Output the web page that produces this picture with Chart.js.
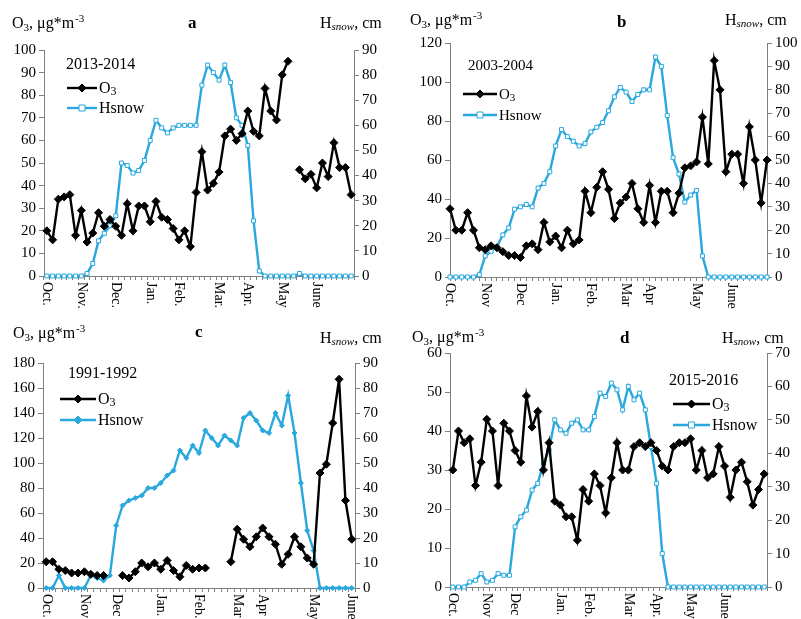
<!DOCTYPE html>
<html>
<head>
<meta charset="utf-8">
<script src="https://cdn.jsdelivr.net/npm/chart.js@4/dist/chart.umd.min.js"></script>
<style>
  body { margin: 0; background: #fff; }
  #wrap { position: relative; width: 801px; height: 619px; }
  canvas { position: absolute; }
</style>
</head>
<body>
<div id="wrap">
  <canvas id="pa" width="400" height="310" style="left:0;top:0"></canvas>
  <canvas id="pb" width="401" height="310" style="left:400px;top:0"></canvas>
  <canvas id="pc" width="400" height="309" style="left:0;top:310px"></canvas>
  <canvas id="pd" width="401" height="309" style="left:400px;top:310px"></canvas>
</div>
<script>
// pentad values, Oct .. June
const o3A = [20,16,34,35,36,18,29,15,19,28, 22,25,22,18,32,20,31,31,24,33, 26,25,21,16,20,13,37,55,38,41,
  46,62,65,60,63,73,64,62,83,73, 69,89,95,null,47,43,45,39,50,44, 59,48,48,36]
const snowA = [0,0,0,0,0,0,0,1,5,14, 17,20,24,45,44,41,42,46,54,62, 59,57,59,60,60,60,60,76,84,81,
  78,84,77,63,60,52,22,2,0,0, 0,0,0,0,1,0,0,0,0,0, 0,0,0,0]
const monthsA = ['Oct.', 'Nov.', 'Dec.', 'Jan.', 'Feb.', 'Mar.', 'Apr.', 'May', 'June']
const monthIdxA = [0, 6, 12, 18, 23, 30, 35, 41, 47]

const o3B = [35,24,24,33,24,15,14,16,15,13, 11,11,10,16,17,14,28,18,21,15, 24,17,19,44,33,46,54,45,30,38,
  41,48,35,28,47,28,44,44,33,43, 56,57,59,82,58,111,96,54,63,63, 48,77,60,38,60]
const snowB = [0,0,0,0,0,1,9,11,13,18, 21,29,30,31,30,38,40,45,56,63, 60,58,56,57,62,64,66,71,77,81,
  79,75,78,80,80,94,90,69,51,44, 32,35,37,9,0,0,0,0,0,0, 0,0,0,0,0]
const monthsB = ['Oct.', 'Nov', 'Dec', 'Jan.', 'Feb.', 'Mar', 'Apr', 'May', 'June']
const monthIdxB = [0, 6, 12, 18, 24, 30, 34, 42, 48]

const o3C = [21,21,15,14,12,12,13,11,10,10, null,null,10,8,13,20,17,20,15,22, 14,9,18,15,16,16,null,null,null,21,
  47,39,33,41,48,41,35,19,27,41, 33,24,19,92,99,132,167,70,39]
const snowC = [0,0,5,0,0,0,0,5,4,3, 5,25,33,35,36,37,40,40,42,45, 47,55,52,57,54,63,60,57,61,59,
  57,68,70,67,63,62,70,65,77,62, 42,23,15,0,0,0,0,0,0]
const monthsC = ['Oct.', 'Nov', 'Dec', 'Jan.', 'Feb.', 'Mar', 'Apr', 'May', 'June']
const monthIdxC = [0, 6, 11, 18, 24, 30, 34, 42, 48]

const o3D = [30,40,37,38,26,32,43,40,26,42, 40,35,32,49,41,45,30,37,22,21, 18,18,12,25,22,29,26,19,28,37,
  30,30,36,37,36,37,35,31,30,36, 37,37,38,30,35,28,29,36,31,23, 30,32,27,21,25,29]
const snowD = [0,0,0,1.5,2,4,1.5,2,4,3.5, 3.5,18,21,23,29,31,37,41,50,47, 46,49,50,47,47,51,58,57,61,59,
  53,60,56,58,53,42,31,10,0,0, 0,0,0,0,0,0,0,0,0,0, 0,0,0,0,0,0]
const monthsD = ['Oct.', 'Nov', 'Dec', 'Jan.', 'Feb.', 'Mar', 'Apr.', 'May', 'June']
const monthIdxD = [0, 6, 11, 19, 24, 31, 36, 42, 48]

const SERIF = "'Liberation Serif', 'Times New Roman', serif"
const BLUE = '#29a8dd'
const AXIS = '#808080'

Chart.defaults.font.family = SERIF
Chart.defaults.font.size = 15
Chart.defaults.color = '#000'

function drawO3Unit (ctx, x, y) {
  ctx.font = '16px ' + SERIF
  ctx.fillText('O', x, y)
  x += ctx.measureText('O').width
  ctx.font = '11px ' + SERIF
  ctx.fillText('3', x, y + 3)
  x += ctx.measureText('3').width
  ctx.font = '16px ' + SERIF
  ctx.fillText(', \u03bcg*m', x, y)
  x += ctx.measureText(', \u03bcg*m').width
  ctx.font = '11px ' + SERIF
  ctx.fillText('-3', x + 1, y - 6)
}

function drawSnowUnit (ctx, x, y) {
  ctx.font = '16px ' + SERIF
  ctx.fillText('H', x, y)
  x += ctx.measureText('H').width
  ctx.font = 'italic 11px ' + SERIF
  ctx.fillText('snow', x, y + 2)
  x += ctx.measureText('snow').width
  ctx.font = '16px ' + SERIF
  ctx.fillText(', cm', x, y)
}

function marker (ctx, style, x, y, r, fill, stroke) {
  ctx.save()
  ctx.beginPath()
  if (style === 'rectRot') {
    ctx.moveTo(x, y - r); ctx.lineTo(x + r, y); ctx.lineTo(x, y + r); ctx.lineTo(x - r, y)
  } else {
    ctx.rect(x - r, y - r, 2 * r, 2 * r)
  }
  ctx.closePath()
  ctx.fillStyle = fill
  ctx.fill()
  ctx.strokeStyle = stroke
  ctx.lineWidth = 1
  ctx.stroke()
  ctx.restore()
}

function legendRow (ctx, x1, x2, y, color, style, fill, label, size, sub) {
  ctx.save()
  ctx.strokeStyle = color
  ctx.lineWidth = 2.4
  ctx.beginPath(); ctx.moveTo(x1, y); ctx.lineTo(x2, y); ctx.stroke()
  ctx.restore()
  marker(ctx, style, (x1 + x2) / 2, y, style === 'rectRot' ? 4 : 3, fill, color)
  ctx.fillStyle = '#000'
  ctx.font = size + 'px ' + SERIF
  ctx.fillText(label, x2 + 2, y + 5)
  if (sub) {
    const w = ctx.measureText(label).width
    ctx.font = Math.round(size * 0.72) + 'px ' + SERIF
    ctx.fillText(sub, x2 + 2 + w, y + 7)
  }
}

const textPlugin = {
  id: 'panelText',
  afterDraw (chart) {
    const p = chart.config.options.plugins.panelText
    const ctx = chart.ctx
    ctx.save()
    ctx.fillStyle = '#000'
    ctx.textAlign = 'left'
    ctx.textBaseline = 'alphabetic'
    drawO3Unit(ctx, p.o3Title[0], p.o3Title[1])
    drawSnowUnit(ctx, p.snowTitle[0], p.snowTitle[1])
    ctx.font = 'bold 17px ' + SERIF
    ctx.fillText(p.letter, p.letterPos[0], p.letterPos[1])
    ctx.font = p.legSize + 'px ' + SERIF
    ctx.fillText(p.year, p.yearPos[0], p.yearPos[1])
    const L = p.legend
    legendRow(ctx, L.x1, L.x2, L.y1, '#000', 'rectRot', '#000', 'O', p.legSize, '3')
    legendRow(ctx, L.x1, L.x2, L.y2, BLUE, p.snowStyle, p.snowFill, 'Hsnow', p.legSize)

    // month labels, reading top to bottom
    const xs = chart.scales.x
    ctx.font = '14px ' + SERIF
    ctx.textBaseline = 'middle'
    p.months.forEach((m, i) => {
      const x = xs.getPixelForValue(p.monthIdx[i])
      ctx.save()
      ctx.translate(x, chart.chartArea.bottom + 6)
      ctx.rotate(Math.PI / 2)
      ctx.fillText(m, 0, 0)
      ctx.restore()
    })
    ctx.restore()
  }
}

function makePanel (id, cfg) {
  const n = cfg.o3.length
  const labels = Array.from({ length: n }, (_, i) => {
    const k = cfg.monthIdx.indexOf(i)
    return k >= 0 ? cfg.months[k] : ''
  })
  const canvas = document.getElementById(id)
  const W = canvas.width
  const H = canvas.height
  return new Chart(canvas.getContext('2d'), {
    type: 'line',
    plugins: [textPlugin],
    data: {
      labels,
      datasets: [{
        label: 'O3',
        data: cfg.o3,
        yAxisID: 'y',
        borderColor: '#000',
        borderWidth: 2.4,
        pointStyle: 'rectRot',
        pointRadius: 4,
        pointBackgroundColor: '#000',
        pointBorderColor: '#000',
        pointBorderWidth: 1,
        spanGaps: false,
        clip: false,
        tension: 0
      }, {
        label: 'Hsnow',
        data: cfg.snow,
        yAxisID: 'y2',
        borderColor: BLUE,
        borderWidth: 2.4,
        pointStyle: cfg.snowStyle,
        pointRadius: cfg.snowStyle === 'rectRot' ? 2.5 : 2.8,
        pointBackgroundColor: cfg.snowFill,
        pointBorderColor: BLUE,
        pointBorderWidth: 1,
        clip: false,
        tension: 0
      }]
    },
    options: {
      responsive: false,
      animation: false,
      events: [],
      layout: { padding: { top: cfg.top, left: 0, right: 0, bottom: 0 } },
      scales: {
        x: {
          type: 'category',
          offset: cfg.offset,
          grid: { drawOnChartArea: false, drawTicks: true, tickLength: 4, color: AXIS, offset: cfg.offset },
          border: { color: AXIS },
          ticks: { display: false, autoSkip: false },
          afterFit (s) { s.height = H - cfg.bottom }
        },
        y: {
          position: 'left',
          min: 0,
          max: cfg.yMax,
          ticks: { stepSize: cfg.yStep, padding: 3 },
          grid: { drawOnChartArea: false, tickLength: 5, color: AXIS },
          border: { color: AXIS },
          afterFit (s) { s.width = cfg.left }
        },
        y2: {
          position: 'right',
          min: 0,
          max: cfg.y2Max,
          ticks: { stepSize: 10, padding: 3 },
          grid: { drawOnChartArea: false, tickLength: 5, color: AXIS },
          border: { color: AXIS },
          afterFit (s) { s.width = W - cfg.right }
        }
      },
      plugins: {
        legend: { display: false },
        tooltip: { enabled: false },
        panelText: {
          months: cfg.months,
          monthIdx: cfg.monthIdx,
          letter: cfg.letter,
          letterPos: cfg.letterPos,
          o3Title: cfg.o3Title,
          snowTitle: cfg.snowTitle,
          year: cfg.year,
          yearPos: cfg.yearPos,
          legend: cfg.legend,
          legSize: cfg.legSize,
          snowStyle: cfg.snowStyle,
          snowFill: cfg.snowFill
        }
      }
    }
  })
}

makePanel('pa', {
  o3: o3A, snow: snowA, months: monthsA, monthIdx: monthIdxA,
  left: 44, right: 354, top: 50, bottom: 276, offset: true,
  yMax: 100, yStep: 10, y2Max: 90,
  letter: 'a', letterPos: [188, 28], o3Title: [12, 28], snowTitle: [320, 28],
  year: '2013-2014', yearPos: [66, 69], legSize: 16,
  legend: { x1: 67, x2: 97, y1: 88, y2: 108 },
  snowStyle: 'rect', snowFill: '#fff'
})

makePanel('pb', {
  o3: o3B, snow: snowB, months: monthsB, monthIdx: monthIdxB,
  left: 50, right: 367, top: 43, bottom: 277, offset: false,
  yMax: 120, yStep: 20, y2Max: 100,
  letter: 'b', letterPos: [217, 27], o3Title: [10, 25], snowTitle: [325, 25],
  year: '2003-2004', yearPos: [68, 70], legSize: 15,
  legend: { x1: 63, x2: 97, y1: 94, y2: 115 },
  snowStyle: 'rect', snowFill: '#fff'
})

makePanel('pc', {
  o3: o3C, snow: snowC, months: monthsC, monthIdx: monthIdxC,
  left: 43, right: 355, top: 53, bottom: 278, offset: true,
  yMax: 180, yStep: 20, y2Max: 90,
  letter: 'c', letterPos: [195, 27], o3Title: [13, 28], snowTitle: [320, 33],
  year: '1991-1992', yearPos: [68, 68], legSize: 16,
  legend: { x1: 60, x2: 96, y1: 89, y2: 110 },
  snowStyle: 'rectRot', snowFill: BLUE
})

makePanel('pd', {
  o3: o3D, snow: snowD, months: monthsD, monthIdx: monthIdxD,
  left: 50, right: 367, top: 43, bottom: 277, offset: true,
  yMax: 60, yStep: 10, y2Max: 70,
  letter: 'd', letterPos: [220, 33], o3Title: [12, 32], snowTitle: [322, 33],
  year: '2015-2016', yearPos: [269, 75], legSize: 16,
  legend: { x1: 273, x2: 310, y1: 94, y2: 115 },
  snowStyle: 'rect', snowFill: '#fff'
})
</script>
</body>
</html>
